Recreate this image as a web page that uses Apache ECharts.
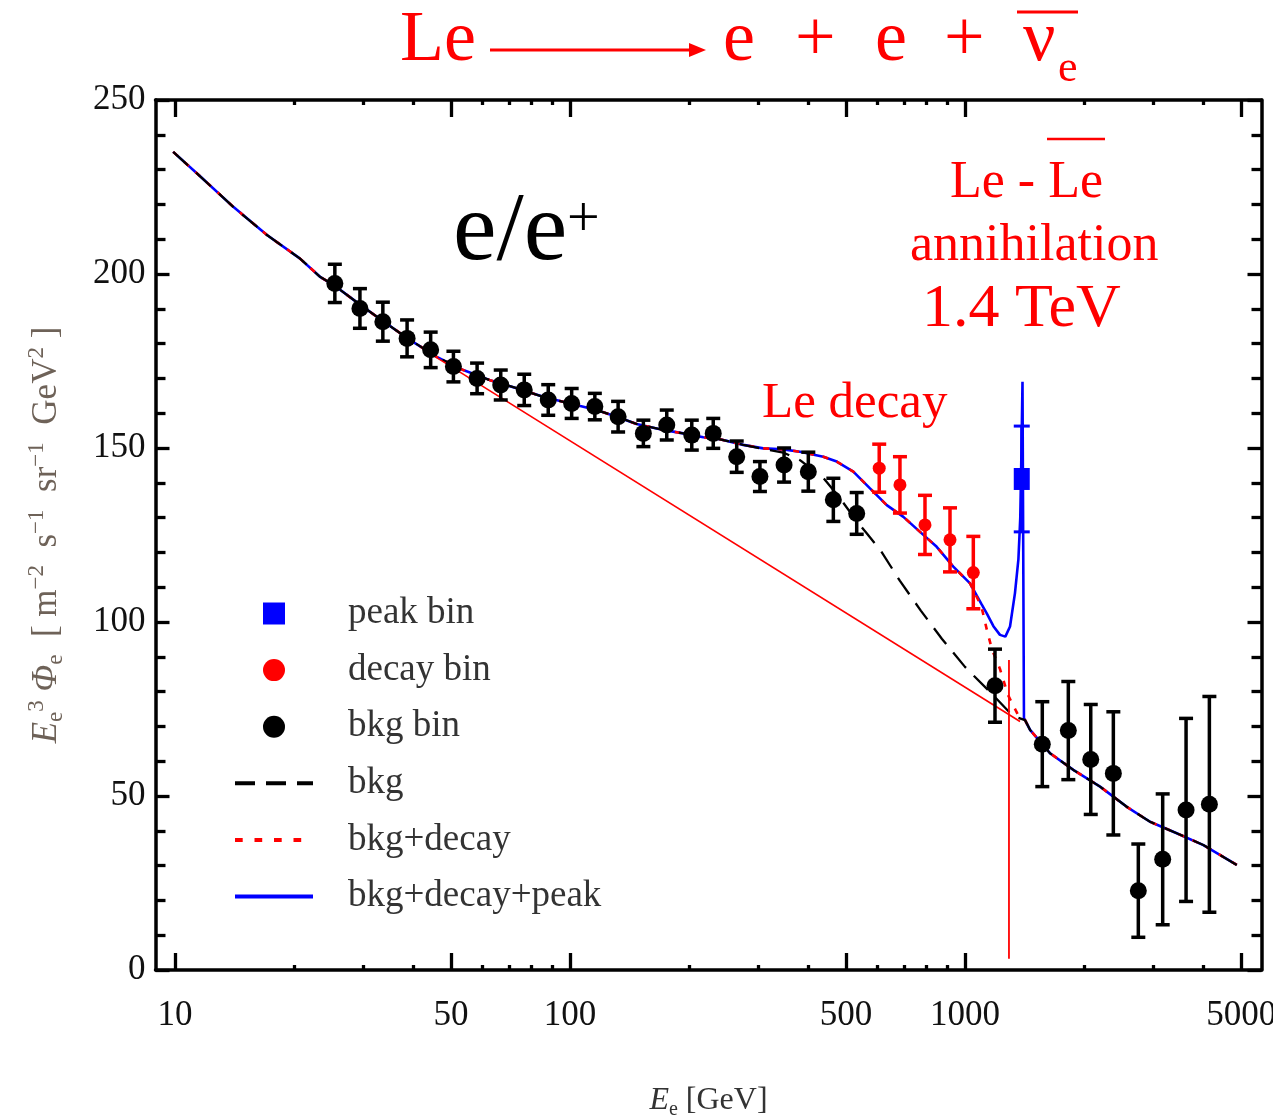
<!DOCTYPE html>
<html>
<head>
<meta charset="utf-8">
<script src="https://cdn.jsdelivr.net/npm/echarts@6/dist/echarts.min.js"></script>
<style>html,body{margin:0;padding:0;background:#fff}#c{width:1273px;height:1119px}</style>
</head>
<body>
<div id="c"></div>
<script>
// ---------- data ----------
// common curve (all three model curves coincide), low-energy part
const curveLowE = [9.9, 11.6, 14.05, 17.1, 20.7, 23.3, 25.4, 29.4, 33.6, 38.7, 46.0, 53.7, 62.7, 73.3, 85.6, 100, 116.8, 131.3, 147.5, 172.3, 193.6, 217.5, 239.8, 274.6];
const curveLowY = [235.1, 228.0, 219.3, 211.2, 204.5, 199.2, 196.6, 191.2, 186.5, 181.6, 176.2, 172.4, 169.5, 167.2, 164.7, 162.8, 160.9, 159.0, 156.9, 155.2, 154.2, 153.1, 152.5, 150.9];
// bkg only (diverges above ~300 GeV)
const bkgMidE = [308.6, 346.7, 382.2, 437.7, 482.5, 529, 563.8, 612.8, 684.4, 773.7, 874.6, 999.8, 1157, 1323];
const bkgMidY = [149.7, 148.7, 146.5, 141.4, 135.6, 129.3, 125.5, 120.4, 111.8, 103.2, 95.1, 87.1, 79.9, 73.0];
// bkg + decay
const decayMidE = [308.6, 346.7, 382.2, 437.7, 473.4, 521.5, 574.8, 633.7, 698.2, 769.3, 847.9, 934.1, 1029.6, 1100, 1137, 1171, 1226, 1285, 1362];
const decayMidY = [149.9, 149.6, 148.9, 147.5, 146.1, 143.2, 138.4, 133.6, 130.2, 125.9, 121.6, 115.9, 111.1, 104.5, 97.5, 92.0, 86.5, 79.0, 73.3];
// bkg + decay + peak
const peakMidE = [308.6, 346.7, 382.2, 437.7, 473.4, 521.5, 574.8, 633.7, 698.2, 769.3, 847.9, 934.1, 1029.6, 1100, 1135, 1180, 1226, 1265, 1300, 1338, 1365, 1380, 1390, 1398, 1410];
const peakMidY = [149.9, 149.6, 148.9, 147.5, 146.1, 143.2, 138.4, 133.6, 130.2, 125.9, 121.6, 115.9, 111.1, 105.2, 102.5, 98.8, 96.3, 95.8, 98.7, 108.3, 118.0, 130.0, 150.0, 169.0, 72.4];
// common curve, high-energy part
const curveHighE = [1419, 1461, 1641, 1880, 2197, 2567, 2940, 3435, 4012, 4874];
const curveHighY = [71.8, 69.0, 62.3, 57.5, 52.7, 46.9, 42.6, 39.3, 35.9, 30.2];

// binned data
const bkgBinE = [25.4, 29.4, 33.6, 38.7, 44.4, 50.7, 58.2, 66.8, 76.6, 88.1, 101, 115.6, 132.4, 153.4, 175.8, 203.4, 230.5, 264.3, 302.6, 348.3, 401.2, 464.2, 531.9, 1191, 1569, 1826, 2081, 2374, 2746, 3165, 3627, 4155];
const bkgBinY = [197.3, 190.1, 186.3, 181.5, 178.2, 173.4, 170.0, 168.1, 166.7, 163.8, 162.8, 161.9, 159.0, 154.2, 156.6, 153.7, 154.2, 147.5, 141.8, 145.1, 143.2, 135.1, 131.2, 81.7, 64.9, 68.8, 60.5, 56.5, 22.8, 31.8, 46.0, 47.6];
const bkgBinErr = [5.5, 5.7, 5.6, 5.3, 5.1, 4.4, 4.4, 4.3, 4.5, 4.4, 4.3, 3.8, 4.4, 3.8, 4.3, 4.3, 4.3, 4.5, 4.3, 4.9, 5.6, 6.2, 6.0, 10.5, 12.2, 14.1, 15.8, 17.7, 13.4, 18.8, 26.3, 31.0];
const decayBinE = [606.5, 684.4, 791.9, 916.2, 1049.6];
const decayBinY = [144.2, 139.4, 127.9, 123.6, 114.2];
const decayBinErr = [6.9, 8.1, 8.5, 9.2, 10.4];
const peakBinE = [1392];
const peakBinY = [141.1];
const peakBinErr = [15.2];

// reference power law and cut line
const powerLawE = [44.2, 1378];
const powerLawY = [177.2, 71.4];
const cutE = [1292, 1292];
const cutY = [3.2, 89.1];

// axes
const xMajorTicks = [10, 50, 100, 500, 1000, 5000];
const xMinorTicks = [20, 30, 40, 60, 70, 80, 90, 200, 300, 400, 600, 700, 800, 900, 2000, 3000, 4000];
const X_MIN = 8.93, X_MAX = 5630;
const Y_MIN = 0, Y_MAX = 250, Y_STEP = 50;

// ---------- build ----------
const zip = (a, b) => a.map((v, i) => [v, b[i]]);
const errData = (e, y, s) => e.map((v, i) => [v, y[i] - s[i], y[i] + s[i]]);
const FONT = '"Liberation Serif", "Times New Roman", serif';

const bkgCurve = zip(curveLowE.concat(bkgMidE, curveHighE), curveLowY.concat(bkgMidY, curveHighY));
const decayCurve = zip(curveLowE.concat(decayMidE, curveHighE), curveLowY.concat(decayMidY, curveHighY));
const peakCurve = zip(curveLowE.concat(peakMidE, curveHighE), curveLowY.concat(peakMidY, curveHighY));

function errRender(color, capW, lw) {
  return function (params, api) {
    const x = api.value(0), lo = api.value(1), hi = api.value(2);
    const p1 = api.coord([x, lo]), p2 = api.coord([x, hi]);
    const st = { stroke: color, lineWidth: lw };
    return {
      type: 'group', children: [
        { type: 'line', shape: { x1: p1[0], y1: p1[1], x2: p2[0], y2: p2[1] }, style: st },
        { type: 'line', shape: { x1: p1[0] - capW / 2, y1: p1[1], x2: p1[0] + capW / 2, y2: p1[1] }, style: st },
        { type: 'line', shape: { x1: p2[0] - capW / 2, y1: p2[1], x2: p2[0] + capW / 2, y2: p2[1] }, style: st }
      ]
    };
  };
}

function xAx(pos, ticks, len, showLine, labels) {
  const ax = {
    type: 'log', logBase: 10, min: X_MIN, max: X_MAX, position: pos,
    splitLine: { show: false },
    axisLine: { show: showLine, lineStyle: { color: '#000', width: 3.5 } },
    axisTick: { show: true, inside: true, length: len, customValues: ticks, lineStyle: { color: '#000', width: 3.3 } },
    axisLabel: { show: false },
    minorTick: { show: false }
  };
  if (labels) {
    ax.axisLabel = { show: true, customValues: xMajorTicks, margin: 28, fontFamily: FONT, fontSize: 35, color: '#111', formatter: v => String(Math.round(v)) };
    ax.name = '{i|E}{sub|e} [GeV]';
    ax.nameLocation = 'middle';
    ax.nameGap = 112;
    ax.nameMoveOverlap = false;
    ax.nameTextStyle = {
      fontFamily: FONT, fontSize: 32, color: '#333', lineHeight: 38,
      rich: {
        i: { fontFamily: FONT, fontSize: 32, fontStyle: 'italic', color: '#333', lineHeight: 38 },
        sub: { fontFamily: FONT, fontSize: 20, color: '#333', verticalAlign: 'bottom', lineHeight: 20 }
      }
    };
  }
  return ax;
}
function yAx(pos, labels) {
  const ax = {
    type: 'value', min: Y_MIN, max: Y_MAX, interval: Y_STEP, position: pos,
    splitLine: { show: false },
    axisLine: { show: true, lineStyle: { color: '#000', width: 3.5 } },
    axisTick: { show: true, inside: true, length: 14, lineStyle: { color: '#000', width: 3.3 } },
    minorTick: { show: true, splitNumber: 5, length: 10, lineStyle: { color: '#000', width: 3.3 } },
    axisLabel: { show: false }
  };
  if (labels) {
    ax.axisLabel = { show: true, margin: 10, fontFamily: FONT, fontSize: 35, color: '#111' };
    ax.name = '{i|E}{sub|e}{sup|3} {i|Φ}{sub|e}  [ m{sup|−2}  s{sup|−1}  sr{sup|−1}  GeV{sup|2} ]';
    ax.nameLocation = 'middle';
    ax.nameGap = 88;
    ax.nameRotate = 90;
    ax.nameMoveOverlap = false;
    const c = '#6e6258';
    ax.nameTextStyle = {
      fontFamily: FONT, fontSize: 35, color: c, lineHeight: 42,
      rich: {
        i: { fontFamily: FONT, fontSize: 35, fontStyle: 'italic', color: c, lineHeight: 42 },
        sub: { fontFamily: FONT, fontSize: 23, color: c, verticalAlign: 'bottom', lineHeight: 23 },
        sup: { fontFamily: FONT, fontSize: 23, color: c, verticalAlign: 'top', lineHeight: 23 }
      }
    };
  }
  return ax;
}

// annotation text helper: x = left edge, b = baseline
function T(text, x, b, size, color, italic) {
  return {
    type: 'text', x: x, y: b - 0.3375 * size, z: 100,
    style: { text: text, fontFamily: FONT, fontSize: size, fill: color, align: 'left', verticalAlign: 'middle', fontStyle: italic ? 'italic' : 'normal' }
  };
}
const RED = '#ff0000';
const noSym = { opacity: 0 };

const option = {
  animation: false,
  backgroundColor: '#ffffff',
  grid: { left: 155.5, right: 11.5, top: 100, bottom: 149, containLabel: false, outerBoundsMode: 'none' },
  xAxis: [
    xAx('bottom', xMajorTicks, 17, true, true),
    xAx('bottom', xMinorTicks, 5, false, false),
    xAx('top', xMajorTicks, 17, true, false),
    xAx('top', xMinorTicks, 5, false, false)
  ],
  yAxis: [yAx('left', true), yAx('right', false)],
  legend: {
    orient: 'vertical', left: 228, top: 590, itemWidth: 78, itemHeight: 22, itemGap: 19.6,
    selectedMode: false,
    textStyle: { fontFamily: FONT, fontSize: 37, color: '#333', padding: [0, 0, 0, 30] },
    data: [
      { name: 'peak bin', icon: 'path://M0,0H10V10H0Z' },
      { name: 'decay bin', icon: 'circle' },
      { name: 'bkg bin', icon: 'circle' },
      { name: 'bkg', itemStyle: noSym, lineStyle: { width: 4, type: [20, 11], color: '#000', opacity: 1 } },
      { name: 'bkg+decay', itemStyle: noSym, lineStyle: { width: 4, type: [7.7, 11.8], color: RED, opacity: 1 } },
      { name: 'bkg+decay+peak', itemStyle: noSym, lineStyle: { width: 4, type: 'solid', color: '#0000ff', opacity: 1 } }
    ]
  },
  series: [
    { name: 'bkg+decay+peak', type: 'line', data: peakCurve, symbol: 'none', z: 2,
      lineStyle: { color: '#0000ff', width: 2.6 }, itemStyle: { color: '#0000ff' } },
    { name: 'bkg+decay', type: 'line', data: decayCurve, symbol: 'none', z: 2,
      lineStyle: { color: RED, width: 2.6, type: [6, 9] }, itemStyle: { color: RED } },
    { name: 'bkg', type: 'line', data: bkgCurve, symbol: 'none', z: 2,
      lineStyle: { color: '#000', width: 2.3, type: [20, 11] }, itemStyle: { color: '#000' } },
    { type: 'line', data: zip(powerLawE, powerLawY), symbol: 'none', z: 2, lineStyle: { color: RED, width: 1.6 } },
    { type: 'line', data: zip(cutE, cutY), symbol: 'none', z: 2, lineStyle: { color: RED, width: 1.8 } },
    { type: 'custom', data: errData(bkgBinE, bkgBinY, bkgBinErr), renderItem: errRender('#000', 14, 3.5), z: 3, encode: { x: 0, y: [1, 2] } },
    { type: 'custom', data: errData(decayBinE, decayBinY, decayBinErr), renderItem: errRender(RED, 14, 3.5), z: 3, encode: { x: 0, y: [1, 2] } },
    { type: 'custom', data: errData(peakBinE, peakBinY, peakBinErr), renderItem: errRender('#0000ff', 16, 3), z: 3, encode: { x: 0, y: [1, 2] } },
    { name: 'bkg bin', type: 'scatter', data: zip(bkgBinE, bkgBinY), symbol: 'circle', symbolSize: 17, z: 4, itemStyle: { color: '#000', opacity: 1 } },
    { name: 'decay bin', type: 'scatter', data: zip(decayBinE, decayBinY), symbol: 'circle', symbolSize: 13, z: 4, itemStyle: { color: RED, opacity: 1 } },
    { name: 'peak bin', type: 'scatter', data: zip(peakBinE, peakBinY), symbol: 'rect', symbolSize: [16, 22], z: 4, itemStyle: { color: '#0000ff', opacity: 1 } }
  ],
  graphic: [
    // top reaction
    T('Le', 400, 65, 72, RED),
    { type: 'line', z: 100, shape: { x1: 490, y1: 50, x2: 692, y2: 50 }, style: { stroke: RED, lineWidth: 3 } },
    { type: 'polygon', z: 100, shape: { points: [[689, 43], [706, 50], [689, 57]] }, style: { fill: RED } },
    T('e', 723, 65, 72, RED),
    T('+', 795, 65, 72, RED),
    T('e', 875, 65, 72, RED),
    T('+', 944, 65, 72, RED),
    T('ν', 1023, 65, 72, RED),
    T('e', 1058, 84, 44, RED),
    { type: 'line', z: 100, shape: { x1: 1017, y1: 12, x2: 1078, y2: 12 }, style: { stroke: RED, lineWidth: 3 } },
    // species label
    T('e/e', 453, 266, 98, '#000'),
    T('+', 567, 240, 58, '#000'),
    // decay / annihilation labels
    T('Le decay', 762, 421, 51, RED),
    T('Le - Le', 950, 201, 52, RED),
    { type: 'line', z: 100, shape: { x1: 1047, y1: 139, x2: 1105, y2: 139 }, style: { stroke: RED, lineWidth: 2.5 } },
    T('annihilation', 910, 264, 52, RED),
    T('1.4 TeV', 922, 331, 62, RED)
  ]
};

const chart = echarts.init(document.getElementById('c'), null, { renderer: 'canvas' });
chart.setOption(option);
</script>
</body>
</html>
